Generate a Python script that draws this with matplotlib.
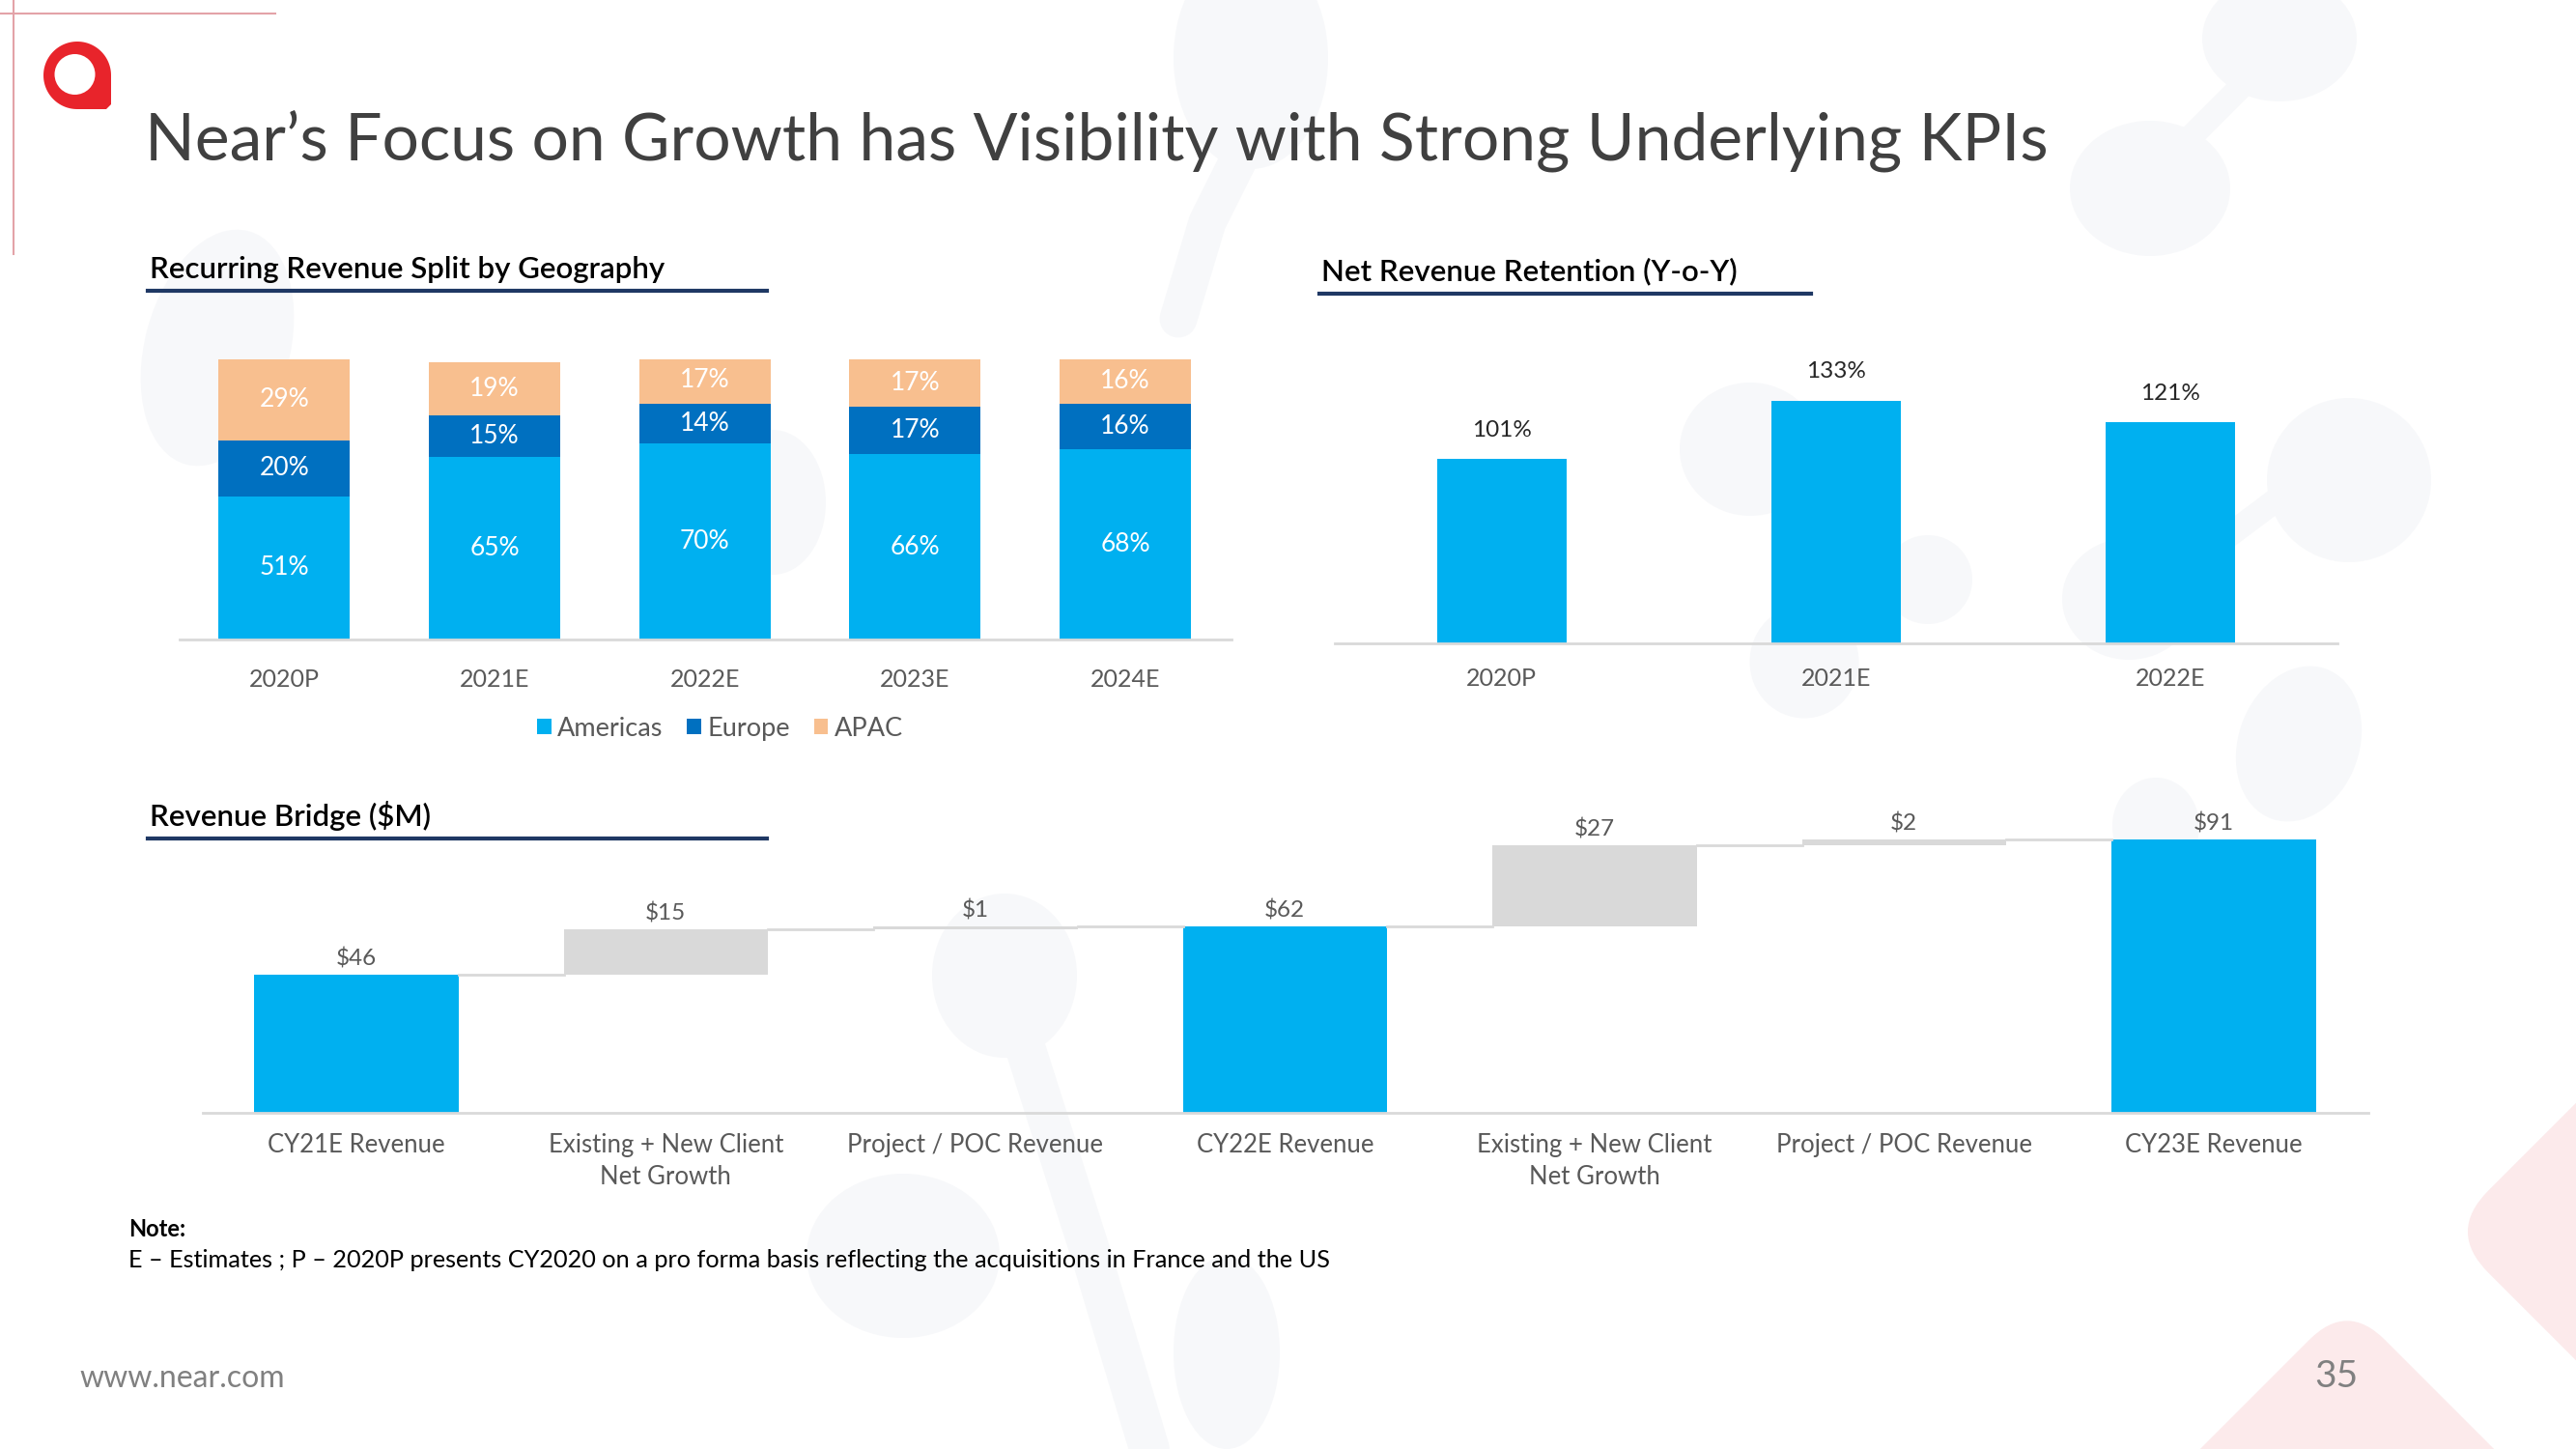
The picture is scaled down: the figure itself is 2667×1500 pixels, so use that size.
import matplotlib.pyplot as plt
import matplotlib.transforms as mtransforms
import numpy as np
from matplotlib.patches import Ellipse, Circle, FancyBboxPatch

plt.rcParams['font.family'] = ['Lato', 'DejaVu Sans']

# --- data ---
years_geo = ["2020P", "2021E", "2022E", "2023E", "2024E"]
americas = [51, 65, 70, 66, 68]
europe = [20, 15, 14, 17, 16]
apac = [29, 19, 17, 17, 16]

years_nrr = ["2020P", "2021E", "2022E"]
nrr = [101, 133, 121]

bridge_labels = ["CY21E Revenue", "Existing + New Client\nNet Growth", "Project / POC Revenue",
                 "CY22E Revenue", "Existing + New Client\nNet Growth", "Project / POC Revenue",
                 "CY23E Revenue"]
bridge_values = [46, 15, 1, 62, 27, 2, 91]
bridge_is_total = [True, False, False, True, False, False, True]

BLUE = "#00B0F0"
DARK = "#0070C0"
PEACH = "#F8BF8F"
GREY_BAR = "#D9D9D9"
TXT = "#595959"
NAVY = "#1F3864"

W, H = 2667, 1500
fig = plt.figure(figsize=(W / 100, H / 100), dpi=100)


def rect(x0, y0, x1, y1):
    # pixel box (top-left origin) -> figure fraction
    return [x0 / W, 1 - y1 / H, (x1 - x0) / W, (y1 - y0) / H]


# background layer in pixel coords
bg = fig.add_axes([0, 0, 1, 1], zorder=-10)
bg.set_xlim(0, W)
bg.set_ylim(H, 0)
bg.axis("off")

blob = "#F7F8FA"
for (cx, cy, w, h, a) in [(1295, 60, 160, 230, 0), (2360, 40, 160, 130, 0), (2226, 195, 166, 140, 0),
                          (2432, 497, 170, 170, 0), (2204, 620, 138, 126, 0), (2380, 770, 125, 165, 20),
                          (1812, 465, 146, 138, 0), (1996, 600, 92, 92, 0), (1868, 685, 113, 117, 0),
                          (2232, 855, 90, 100, 0), (225, 360, 150, 250, 15), (800, 520, 110, 150, 0),
                          (935, 1300, 200, 170, 0), (1040, 1010, 150, 170, 0), (1270, 1400, 110, 200, 0)]:
    bg.add_patch(Ellipse((cx, cy), w, h, angle=a, color=blob, lw=0))
for (xs, ys, lw) in [([1290, 1250, 1220], [150, 230, 330], 28), ([2320, 2240], [90, 170], 18),
                     ([2380, 2300, 2240], [500, 560, 620], 18), ([1060, 1130, 1190], [1080, 1300, 1500], 30)]:
    bg.plot(xs, ys, color=blob, lw=lw, solid_capstyle="round")

pink = "#FCEAEB"
for (px, py, s, rr) in [(2760, 1275, 320, 60), (2430, 1560, 300, 55)]:
    p = FancyBboxPatch((px - s / 2, py - s / 2), s, s, boxstyle=f"round,pad=0,rounding_size={rr}",
                       color=pink, lw=0)
    bg.add_patch(p)
    p.set_transform(mtransforms.Affine2D().rotate_deg_around(px, py, 45) + bg.transData)

# thin red guide lines
bg.plot([0, 285], [14, 14], color="#E3A3A8", lw=1.5)
bg.plot([14, 14], [0, 263], color="#E3A3A8", lw=1.5)

# logo: ring with a squared bottom-right corner
red = "#E8242B"
cx, cy, r = 80, 78, 35
outer = [(cx + r * np.cos(t), cy - r * np.sin(t)) for t in np.linspace(0, 1.5 * np.pi, 90)]
outer = outer + [(cx, cy + r), (cx + r - 5, cy + r), (cx + r, cy + r - 5), (cx + r, cy)]
bg.add_patch(plt.Polygon(outer, closed=True, color=red, lw=0))
bg.add_patch(Circle((77.5, 77), 21, color="white", lw=0))

# title + footer
fig.text(150 / W, 1 - 166 / H, "Near\u2019s Focus on Growth has Visibility with Strong Underlying KPIs",
         fontsize=48.8, color="#404040", va="baseline", ha="left")
fig.text(82 / W, 1 - 1427 / H, "www.near.com", fontsize=23, color="#808080", va="center", ha="left")
fig.text(2419 / W, 1 - 1425 / H, "35", fontsize=28, color="#808080", va="center", ha="center")
fig.text(133 / W, 1 - 1273 / H, "Note:", fontsize=17, color="black", va="center", ha="left", fontweight="bold")
fig.text(133 / W, 1 - 1304 / H,
         "E \u2013 Estimates ; P \u2013 2020P presents CY2020 on a pro forma basis reflecting the acquisitions in France and the US",
         fontsize=18.2, color="black", va="center", ha="left")

# section headers with underline
for (tx, ty, lx1, ly, label) in [(155, 279, 794, 301, "Recurring Revenue Split by Geography"),
                                 (1368, 281, 1875, 304, "Net Revenue Retention (Y-o-Y)"),
                                 (155, 845, 794, 868, "Revenue Bridge ($M)")]:
    fig.text(tx / W, 1 - ty / H, label, fontsize=22.5, color="black", va="center", ha="left", fontweight="semibold")
    bg.plot([tx - 2, lx1], [ly, ly], color=NAVY, lw=3)


def clean(ax):
    for s in ["top", "right", "left"]:
        ax.spines[s].set_visible(False)
    ax.spines["bottom"].set_color("#D9D9D9")
    ax.spines["bottom"].set_linewidth(2)
    ax.set_yticks([])
    ax.tick_params(axis="x", length=0, colors=TXT)
    ax.patch.set_alpha(0)


# --- chart 1: stacked geography split ---
ax1 = fig.add_axes(rect(185.5, 371.7, 1275, 661.7))
x1 = np.arange(len(years_geo))
ax1.bar(x1, americas, 0.625, color=BLUE, label="Americas")
ax1.bar(x1, europe, 0.625, bottom=americas, color=DARK, label="Europe")
bot_ap = np.array(americas) + np.array(europe)
ax1.bar(x1, apac, 0.625, bottom=bot_ap, color=PEACH, label="APAC")
for vals, bots in [(americas, [0] * 5), (europe, americas), (apac, bot_ap)]:
    for xi, v, b in zip(x1, vals, bots):
        ax1.text(xi, b + v / 2, f"{v}%", ha="center", va="center", color="white", fontsize=19)
ax1.set_xlim(-0.5, 4.505)
ax1.set_ylim(0, 100)
ax1.set_xticks(x1, years_geo, fontsize=18)
ax1.tick_params(axis="x", pad=22)
clean(ax1)
ax1.legend(loc="center", bbox_to_anchor=(745.5 / W, 1 - 754 / H), bbox_transform=fig.transFigure, ncol=3,
           frameon=False, fontsize=19.5, labelcolor=TXT, handlelength=0.55, handleheight=0.55,
           columnspacing=0.9, handletextpad=0.25, borderpad=0)

# --- chart 2: net revenue retention ---
ax2 = fig.add_axes(rect(1381.6, 665.7 - 302, 2419.8, 665.7))
x2 = np.arange(len(years_nrr))
ax2.bar(x2, nrr, 0.387, color=BLUE)
for xi, v in zip(x2, nrr):
    ax2.annotate(f"{v}%", (xi, v), xytext=(0, 21.5), textcoords="offset points",
                 ha="center", va="center", fontsize=17.5, color="#262626")
ax2.set_xlim(-0.5, 2.5)
ax2.set_ylim(0, 160)
ax2.set_xticks(x2, years_nrr, fontsize=18)
ax2.tick_params(axis="x", pad=18)
clean(ax2)

# --- chart 3: revenue bridge ---
ax3 = fig.add_axes(rect(210.5, 1151.7 - 310.7, 2452, 1151.7))
x3 = np.arange(len(bridge_values))
bottoms, tops = [], []
running = 0
for v, tot in zip(bridge_values, bridge_is_total):
    if tot:
        bottoms.append(0)
        running = v
    else:
        bottoms.append(running)
        running += v
    tops.append(running)
colors = [BLUE if t else GREY_BAR for t in bridge_is_total]
bw = 0.66
ax3.bar(x3, bridge_values, bw, bottom=bottoms, color=colors)
for i in range(len(x3) - 1):
    ax3.plot([x3[i] + bw / 2, x3[i + 1] - bw / 2], [tops[i], tops[i]], color=GREY_BAR, lw=2)
for xi, v, t in zip(x3, bridge_values, tops):
    ax3.annotate(f"${v}", (xi, t), xytext=(0, 12), textcoords="offset points",
                 ha="center", va="center", fontsize=17.5, color=TXT)
ax3.set_xlim(-0.494, 6.5)
ax3.set_ylim(0, 100)
ax3.set_xticks(x3, bridge_labels, fontsize=18.5, linespacing=1.4)
ax3.tick_params(axis="x", pad=15)
clean(ax3)

fig.savefig("out.png", dpi=100)
